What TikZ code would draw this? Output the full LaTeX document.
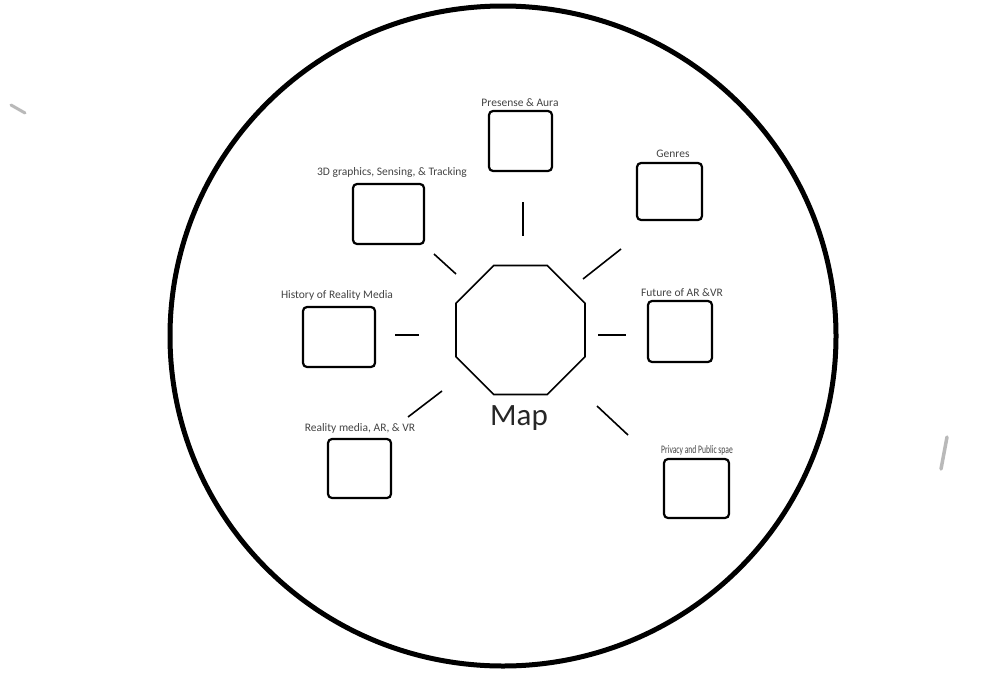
\documentclass[tikz,border=0pt]{standalone}
\usepackage{fontspec}
\setmainfont{Carlito}
\usetikzlibrary{shapes.geometric}
\definecolor{labelgray}{HTML}{444444}
\begin{document}
\begin{tikzpicture}[x=1pt,y=-1pt,
  topicbox/.style={draw=black, line width=2.2pt, rounded corners=4pt, inner sep=0pt},
  topiclabel/.style={anchor=base, inner sep=0pt, text=labelgray, font=\fontsize{11.5}{13}\selectfont},
  spoke/.style={draw=black, line width=1.6pt},
  smudge/.style={draw=gray!55, line cap=round}
]
\useasboundingbox (0,0) rectangle (1000,699);
\fill[white] (0,0) rectangle (1000,699);

% outer circle
\node[draw=black, line width=5pt, ellipse, minimum width=666pt, minimum height=660pt, inner sep=0pt] (outer) at (503,336) {};

% centre octagon
\node[draw=black, line width=1.6pt, regular polygon, regular polygon sides=8, minimum size=139.6pt, inner sep=0pt] (oct) at (520.5,330) {};
\node[anchor=base, inner sep=0pt, font=\fontsize{31}{34}\selectfont, text=black!85] (map) at (519,425) {Map};

% topic boxes
\node[topicbox, minimum width=63pt, minimum height=60pt] (aura) at (520.5,141) {};
\node[topicbox, minimum width=71pt, minimum height=60pt] (track) at (388.5,214) {};
\node[topicbox, minimum width=65pt, minimum height=57pt] (genres) at (669.5,191.5) {};
\node[topicbox, minimum width=72pt, minimum height=60pt] (history) at (339,337) {};
\node[topicbox, minimum width=64pt, minimum height=61pt] (future) at (680,331.5) {};
\node[topicbox, minimum width=63pt, minimum height=59pt] (reality) at (359.5,468.5) {};
\node[topicbox, minimum width=65pt, minimum height=59pt] (privacy) at (696.5,488.5) {};

% labels
\node[topiclabel] (auraL) at (520,106) {Presense \& Aura};
\node[topiclabel] (trackL) at (392,175) {3D graphics, Sensing, \& Tracking};
\node[topiclabel] (genresL) at (673,157) {Genres};
\node[topiclabel] (historyL) at (337,298) {History of Reality Media};
\node[topiclabel] (futureL) at (682,296) {Future of AR \&VR};
\node[topiclabel] (realityL) at (360,431) {Reality media, AR, \& VR};
\node[topiclabel] (privacyL) at (697,453) {\scalebox{0.66}[1]{Privacy and Public spae}};

% spokes (free segments)
\coordinate (s1a) at (523,202); \coordinate (s1b) at (523,236);
\coordinate (s2a) at (434,254); \coordinate (s2b) at (456,274);
\coordinate (s3a) at (621,249); \coordinate (s3b) at (583,279);
\coordinate (s4a) at (395,335); \coordinate (s4b) at (419,335);
\coordinate (s5a) at (598,335); \coordinate (s5b) at (626,335);
\coordinate (s6a) at (442,391); \coordinate (s6b) at (408,417);
\coordinate (s7a) at (597,406); \coordinate (s7b) at (628,435);
\draw[spoke] (s1a) -- (s1b);
\draw[spoke] (s2a) -- (s2b);
\draw[spoke] (s3a) -- (s3b);
\draw[spoke] (s4a) -- (s4b);
\draw[spoke] (s5a) -- (s5b);
\draw[spoke] (s6a) -- (s6b);
\draw[spoke] (s7a) -- (s7b);

% scan smudges
\draw[smudge, line width=3pt] (11,105) -- (25,113);
\draw[smudge, line width=3.5pt] (947,437) -- (941,469);
\end{tikzpicture}
\end{document}
